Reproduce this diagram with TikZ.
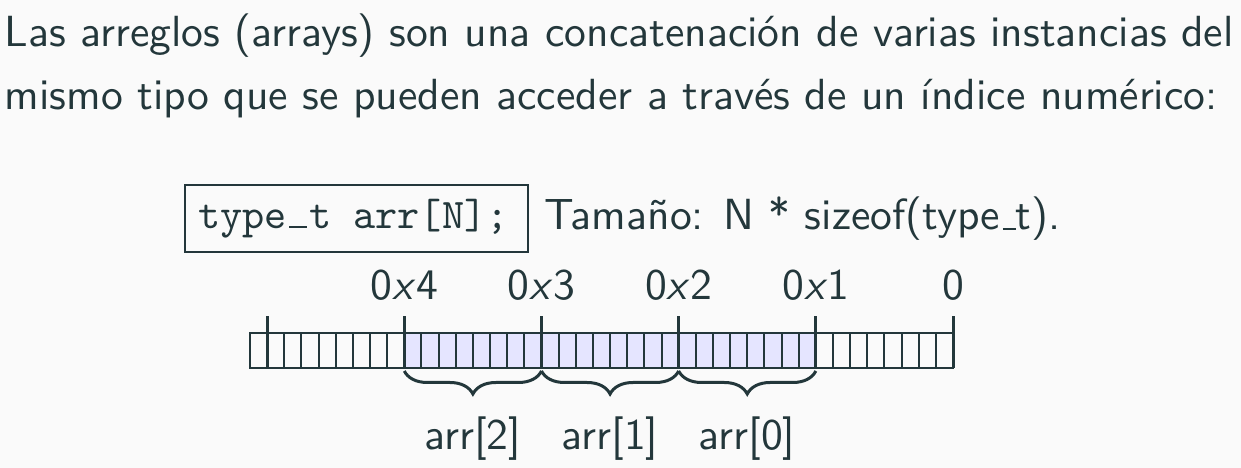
\documentclass[tikz,border=0pt]{standalone}
\usetikzlibrary{decorations.pathreplacing,calc}
\definecolor{fg}{HTML}{23373B}
\definecolor{bg}{HTML}{FAFAFA}
\definecolor{cellfill}{HTML}{E5E5FF}
\newcommand{\ussans}{\leavevmode\kern.06em\vbox{\hrule width.3em}}
\newcommand{\usmono}{\makebox[0.525em]{\vbox{\hrule width.42em height .5pt}}}
\tikzset{
  txt/.style={inner sep=0pt, anchor=base west},
  lbl/.style={inner sep=0pt, anchor=base},
  cell/.style={draw=fg, line width=0.5pt},
  tick/.style={draw=fg, line width=0.75pt},
  brc/.style={draw=fg, line width=0.75pt, decorate, decoration={brace, mirror, amplitude=5.75pt}},
}
\begin{document}
\begin{tikzpicture}[x=0.25pt, y=-0.25pt, font=\sffamily\fontsize{10.9}{15}\selectfont, text=fg]
\useasboundingbox[fill=bg] (0,0) rectangle (1241,468);
\node[txt] (line1) at (4,47) {Las arreglos (arrays) son una concatenación de varias instancias del};
\node[txt] (line2) at (4,110) {mismo tipo que se pueden acceder a través de un índice numérico:};
\node[draw=fg, line width=0.4pt, inner sep=0pt, minimum width=85.75pt, minimum height=16.75pt] (code) at (356.5,218.5) {\kern-1.5pt\ttfamily\fontsize{10.55}{15}\selectfont type\usmono t arr[N];};
\node[txt] (size) at (544,230) {Tamaño: N * sizeof(type\ussans t).};
% cells
\pgfmathsetmacro{\cw}{703/41}
\fill[cellfill] ({250+9*\cw},333) rectangle ({250+33*\cw},368);
\foreach \k in {0,...,40} {
  \draw[cell] ({250+\k*\cw},333) rectangle ({250+(\k+1)*\cw},368);
}
\foreach \k/\n in {1/t5,9/t4,17/t3,25/t2,33/t1,41/t0} {
  \coordinate (\n) at ({250+\k*\cw},368);
  \coordinate (\n top) at ({250+\k*\cw},316);
  \draw[tick] (\n) -- (\n top);
}
\node[lbl] (l4) at ([yshift=4pt]t4top) {0\textit{x}4};
\node[lbl] (l3) at ([yshift=4pt]t3top) {0\textit{x}3};
\node[lbl] (l2) at ([yshift=4pt]t2top) {0\textit{x}2};
\node[lbl] (l1) at ([yshift=4pt]t1top) {0\textit{x}1};
\node[lbl] (l0) at ([yshift=4pt]t0top) {0};
\draw[brc] ([yshift=-0.75pt]t4) -- ([yshift=-0.75pt]t3);
\draw[brc] ([yshift=-0.75pt]t3) -- ([yshift=-0.75pt]t2);
\draw[brc] ([yshift=-0.75pt]t2) -- ([yshift=-0.75pt]t1);
\node[lbl] (a2) at ($(t4)!0.5!(t3)+(0,82)$) {arr[2]};
\node[lbl] (a1) at ($(t3)!0.5!(t2)+(0,82)$) {arr[1]};
\node[lbl] (a0) at ($(t2)!0.5!(t1)+(0,82)$) {arr[0]};
\end{tikzpicture}
\end{document}
